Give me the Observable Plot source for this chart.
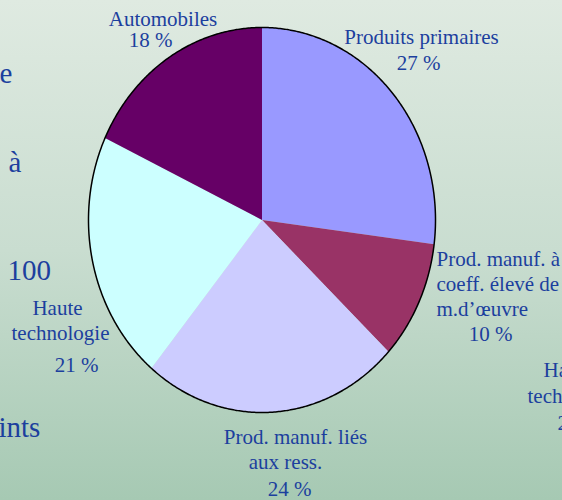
<!DOCTYPE html>
<html>
<head>
<meta charset="utf-8">
<script src="https://cdn.jsdelivr.net/npm/d3@7"></script>
<script src="https://cdn.jsdelivr.net/npm/@observablehq/plot@0.6"></script>
<style>
  html, body { margin: 0; padding: 0; }
  #chart { width: 562px; height: 500px; background: linear-gradient(to bottom, #dfeae1 0%, #c9ddd0 50%, #a6c9b3 100%); overflow: hidden; }
  #chart svg { display: block; }
</style>
</head>
<body>
<div id="chart"></div>
<script>
// Data
const categories = ["Produits primaires", "Prod. manuf. à coeff. élevé de m.d’œuvre", "Prod. manuf. liés aux ress.", "Haute technologie", "Automobiles"];
const shares = [27, 10, 24, 21, 18];
const colors = ["#9999ff", "#993366", "#ccccff", "#ccffff", "#660066"];

// Label lines (text only)
const labelLines = [
  ["Produits primaires", "27 %"],
  ["Prod. manuf. à", "coeff. élevé de", "m.d’œuvre", "10 %"],
  ["Prod. manuf. liés", "aux ress.", "24 %"],
  ["Haute", "technologie", "21 %"],
  ["Automobiles", "18 %"]
];
// Background slide fragments (large, left) and neighbouring chart label (right)
const fragments = ["e", "à", "100", "ints"];
const rightFragments = ["Ha", "tech", "2"];

// Layout
const W = 562, H = 500;
const cx = 261.5, cy = 219.5, rx = 173.5, ry = 192.5;
const labelPos = [
  [[421, 43, "middle"], [418, 69, "middle"]],
  [[436, 265, "start"], [436, 290, "start"], [436, 315, "start"], [490, 340, "middle"]],
  [[295, 443, "middle"], [285, 468, "middle"], [289, 495, "middle"]],
  [[57, 314, "middle"], [60, 339, "middle"], [76, 371, "middle"]],
  [[162.5, 25, "middle"], [150, 46, "middle"]]
];
const fragPos = [[-1, 82], [8, 171], [7, 279], [-2, 436]];
const rightFragPos = [[543, 376], [527, 402], [557, 429]];

const pie = d3.pie().sort(null).value(d => d.v).startAngle(0).endAngle(2 * Math.PI);
const arcs = pie(categories.map((c, i) => ({c, v: shares[i], color: colors[i]})));

const slicePts = [];
for (const a of arcs) {
  const pts = [[0, 0]];
  const n = Math.max(2, Math.ceil((a.endAngle - a.startAngle) / (Math.PI / 360)));
  for (let k = 0; k <= n; k++) {
    const t = a.startAngle + (a.endAngle - a.startAngle) * k / n;
    pts.push([Math.sin(t), -Math.cos(t)]);
  }
  pts.push([0, 0]);
  for (const p of pts) slicePts.push({c: a.data.c, color: a.data.color, ux: p[0], uy: p[1]});
}
const outline = d3.range(0, 721).map(k => {
  const t = k / 720 * 2 * Math.PI;
  return {ux: Math.sin(t), uy: -Math.cos(t)};
});

const LS = 21, FS = 29;
const labels = [];
labelLines.forEach((lines, i) => lines.forEach((t, j) => {
  const [x, y, anchor] = labelPos[i][j];
  labels.push({t, x, y, anchor, size: LS});
}));
rightFragments.forEach((t, i) => {
  const [x, y] = rightFragPos[i];
  labels.push({t, x, y, anchor: "start", size: LS});
});
fragments.forEach((t, i) => {
  const [x, y] = fragPos[i];
  labels.push({t, x, y, anchor: "start", size: FS});
});

const X = d => cx + d.ux * rx;
const Y = d => cy + d.uy * ry;

const textMark = (anchor, size) => Plot.text(labels.filter(d => d.anchor === anchor && d.size === size), {
  x: "x", y: "y", text: "t", textAnchor: anchor, lineAnchor: "bottom",
  fill: "#1c3f9e", fontSize: size, fontFamily: "Liberation Serif, Times New Roman, serif"
});

const chart = Plot.plot({
  width: W, height: H,
  margin: 0,
  x: {domain: [0, W], range: [0, W], axis: null},
  y: {domain: [0, H], range: [0, H], axis: null},
  style: {background: "transparent", overflow: "visible"},
  marks: [
    Plot.line(slicePts, {x: X, y: Y, z: "c", fill: "color", stroke: "none", curve: "linear-closed"}),
    Plot.line(outline, {x: X, y: Y, stroke: "#000", strokeWidth: 1.5, curve: "linear"}),
    textMark("middle", LS), textMark("start", LS), textMark("start", FS)
  ]
});
document.getElementById("chart").appendChild(chart);
</script>
</body>
</html>
